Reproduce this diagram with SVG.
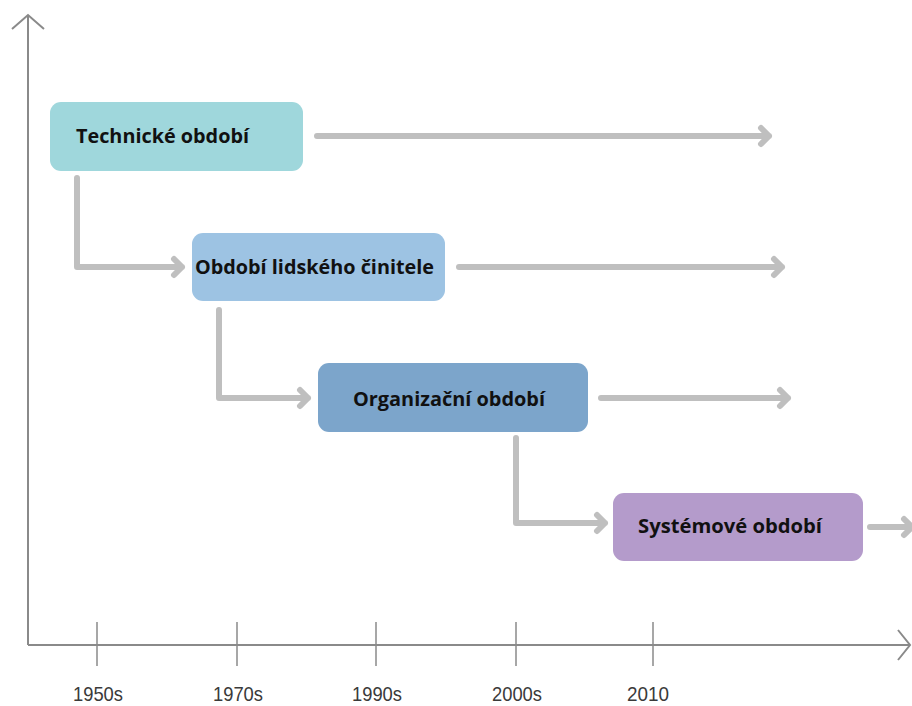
<svg xmlns="http://www.w3.org/2000/svg" width="912" height="706" viewBox="0 0 912 706">
  <style>
    .axis { stroke: #8a8a8a; stroke-width: 2; fill: none; }
    .tick { stroke: #8a8a8a; stroke-width: 1.5; }
    .yr { font-family: "Liberation Sans Narrow", "Liberation Sans", Arial, sans-serif; font-size: 21px; fill: #3a3a3a; text-anchor: middle; }
    .conn { stroke: #bfbfbf; stroke-width: 6; fill: none; stroke-linecap: round; stroke-linejoin: round; }
    .box { stroke: none; }
    .lbl { font-family: "Open Sans", Lato, sans-serif; font-weight: bold; font-size: 20px; fill: #111; }
  </style>

  <!-- axes -->
  <g id="axes">
    <path class="axis" d="M28 645 V15 M12 29 L28 15 L44 29"/>
    <path class="axis" d="M28 645 H910 M898 630 L910 645 L898 660"/>
    <line class="tick" x1="97" y1="622" x2="97" y2="666"/>
    <line class="tick" x1="237" y1="622" x2="237" y2="666"/>
    <line class="tick" x1="376" y1="622" x2="376" y2="666"/>
    <line class="tick" x1="516" y1="622" x2="516" y2="666"/>
    <line class="tick" x1="653" y1="622" x2="653" y2="666"/>
    <text class="yr" x="98" y="701" textLength="50" lengthAdjust="spacingAndGlyphs">1950s</text>
    <text class="yr" x="238" y="701" textLength="50" lengthAdjust="spacingAndGlyphs">1970s</text>
    <text class="yr" x="377" y="701" textLength="50" lengthAdjust="spacingAndGlyphs">1990s</text>
    <text class="yr" x="517" y="701" textLength="50" lengthAdjust="spacingAndGlyphs">2000s</text>
    <text class="yr" x="648" y="701" textLength="42" lengthAdjust="spacingAndGlyphs">2010</text>
  </g>

  <!-- connectors -->
  <g id="connectors">
    <path class="conn" d="M317 136 H769 M761 128 L769 136 L761 144"/>
    <path class="conn" d="M459 267 H782 M774 259 L782 267 L774 275"/>
    <path class="conn" d="M601 398 H788 M780 390 L788 398 L780 406"/>
    <path class="conn" d="M870 527 H912 M904 519 L912 527 L904 535"/>
    <path class="conn" d="M77 178 V267 H182 M174 259 L182 267 L174 275"/>
    <path class="conn" d="M219 310 V398 H308 M300 390 L308 398 L300 406"/>
    <path class="conn" d="M516 438 V523 H605 M597 515 L605 523 L597 531"/>
  </g>

  <!-- nodes -->
  <g id="node-technicke">
    <rect class="box" x="50" y="102" width="253" height="69" rx="11" fill="#9fd7dc"/>
    <text class="lbl" x="76" y="143" textLength="173" lengthAdjust="spacingAndGlyphs">Technické období</text>
  </g>
  <g id="node-lidsky">
    <rect class="box" x="192" y="233" width="253" height="68" rx="11" fill="#9dc3e3"/>
    <text class="lbl" x="195" y="274" textLength="239" lengthAdjust="spacingAndGlyphs">Období lidského činitele</text>
  </g>
  <g id="node-organizacni">
    <rect class="box" x="318" y="363" width="270" height="69" rx="11" fill="#7ca5cb"/>
    <text class="lbl" x="353" y="406" textLength="192" lengthAdjust="spacingAndGlyphs">Organizační období</text>
  </g>
  <g id="node-systemove">
    <rect class="box" x="613" y="493" width="250" height="68" rx="11" fill="#b49bcb"/>
    <text class="lbl" x="638" y="533" textLength="184" lengthAdjust="spacingAndGlyphs">Systémové období</text>
  </g>
</svg>
